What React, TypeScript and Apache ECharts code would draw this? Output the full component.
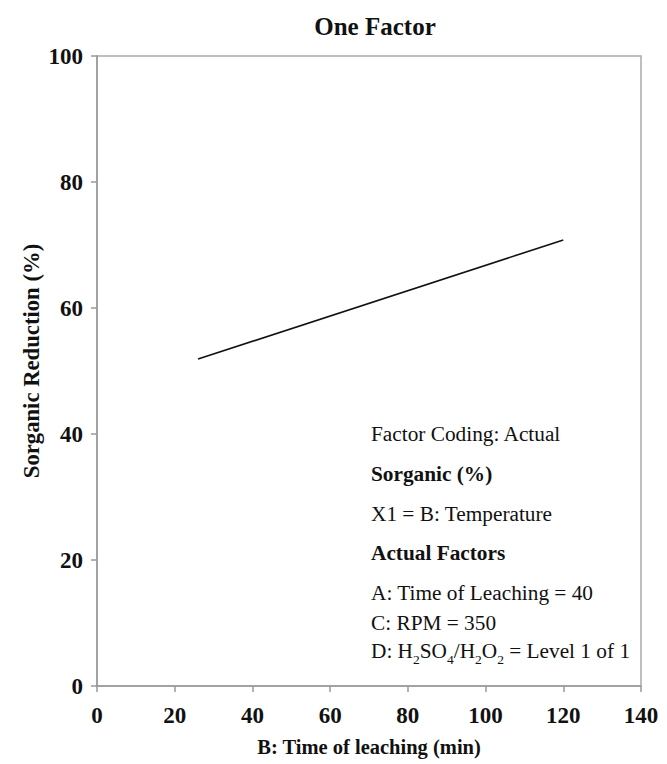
import React, { useEffect, useRef } from "react";
import * as echarts from "echarts";

const xTicks = [0, 20, 40, 60, 80, 100, 120, 140];
const yTicks = [0, 20, 40, 60, 80, 100];
const lineX = [26, 120];
const lineY = [51.9, 70.8];
const infoLines = [
  "Factor Coding: Actual",
  "Sorganic (%)",
  "X1 = B: Temperature",
  "Actual Factors",
  "A: Time of Leaching = 40",
  "C: RPM = 350",
];

const FONT = "'Liberation Serif', 'Times New Roman', serif";

export default function App() {
  const ref = useRef<HTMLDivElement>(null);
  useEffect(() => {
    document.body.style.margin = "0";
    const chart = echarts.init(ref.current!, null, { renderer: "svg" });
    const infoY = [423, 463, 503, 542, 582, 612];
    const bold = [false, true, false, true, false, false];
    const graphics: any[] = infoLines.map((t, i) => ({
      type: "text",
      left: 371,
      top: infoY[i],
      style: {
        text: t,
        fontFamily: FONT,
        fontSize: 21.3,
        fontWeight: bold[i] ? "bold" : "normal",
        fill: "#111",
      },
    }));
    graphics.push({
      type: "text",
      left: 371,
      top: 640,
      style: {
        text: "{n|D: H}{s|2}{n|SO}{s|4}{n|/H}{s|2}{n|O}{s|2}{n| = Level 1 of 1}",
        fontFamily: FONT,
        fontSize: 21.3,
        fill: "#111",
        rich: {
          n: { fontFamily: FONT, fontSize: 21.3, fill: "#111", lineHeight: 26, verticalAlign: "bottom" },
          s: { fontFamily: FONT, fontSize: 13.5, fill: "#111", lineHeight: 18, verticalAlign: "bottom", padding: [0, 0, -5, 0] },
        },
      },
    });
    graphics.push({
      type: "text",
      x: 31,
      y: 361,
      rotation: Math.PI / 2,
      style: {
        text: "Sorganic Reduction (%)",
        fontFamily: FONT,
        fontSize: 22.7,
        fontWeight: "bold",
        fill: "#111",
        align: "center",
        verticalAlign: "middle",
      },
    });
    chart.setOption({
      animation: false,
      backgroundColor: "#fff",
      title: {
        text: "One Factor",
        left: 370,
        textAlign: "center",
        top: 9,
        textStyle: { fontFamily: FONT, fontSize: 25, fontWeight: "bold", color: "#111" },
      },
      grid: {
        left: 97,
        right: 26,
        top: 56,
        bottom: 78,
        show: true,
        borderColor: "#aaa",
        borderWidth: 1.5,
        containLabel: false,
      },
      xAxis: {
        type: "value",
        min: xTicks[0],
        max: xTicks[xTicks.length - 1],
        interval: 20,
        name: "B: Time of leaching (min)",
        nameLocation: "middle",
        nameGap: 50,
        nameTextStyle: { fontFamily: FONT, fontSize: 20.5, fontWeight: "bold", color: "#111" },
        axisLine: { show: true, lineStyle: { color: "#999", width: 1.5 } },
        axisTick: { show: true, inside: false, length: 6, lineStyle: { color: "#999", width: 1.5 } },
        axisLabel: { fontFamily: FONT, fontSize: 23, fontWeight: "bold", color: "#111", margin: 18 },
        splitLine: { show: false },
      },
      yAxis: {
        type: "value",
        min: yTicks[0],
        max: yTicks[yTicks.length - 1],
        interval: 20,
        axisLine: { show: true, lineStyle: { color: "#999", width: 1.5 } },
        axisTick: { show: true, inside: false, length: 6, lineStyle: { color: "#999", width: 1.5 } },
        axisLabel: { fontFamily: FONT, fontSize: 23, fontWeight: "bold", color: "#111", margin: 14 },
        splitLine: { show: false },
      },
      series: [
        {
          type: "line",
          data: lineX.map((x, i) => [x, lineY[i]]),
          showSymbol: false,
          lineStyle: { color: "#111", width: 1.6 },
        },
      ],
      graphic: graphics,
    });
    return () => chart.dispose();
  }, []);
  return <div ref={ref} style={{ width: 667, height: 764 }} />;
}
